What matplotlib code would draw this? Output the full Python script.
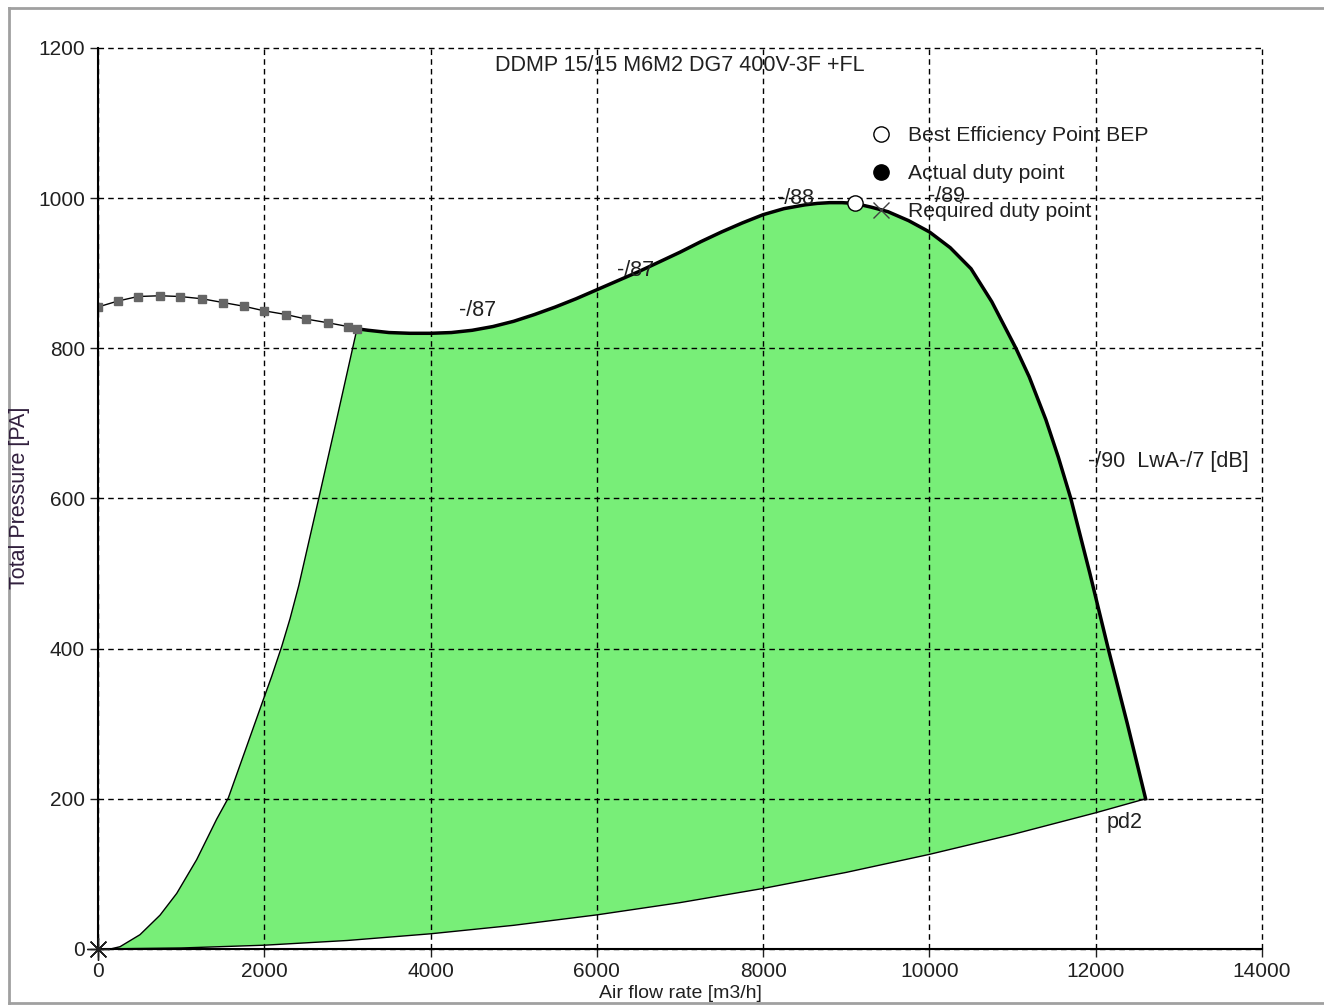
import matplotlib.pyplot as plt
import numpy as np
from matplotlib.lines import Line2D

# stall region curve (grey squares)
stall_x = [0, 240, 481, 746, 986, 1251, 1503, 1756, 1996, 2261, 2502, 2766, 3007, 3115]
stall_y = [855, 863, 869, 870, 869, 866, 861, 856, 850, 845, 839, 834, 829, 826]

# fan curve, max speed
fan_x = [3115, 3250, 3500, 3750, 4000, 4250, 4500, 4750, 5000, 5250, 5500, 5750, 6000,
         6250, 6500, 6750, 7000, 7250, 7500, 7750, 8000, 8250, 8500, 8650, 8800, 8950,
         9100, 9300, 9500, 9750, 10000, 10250, 10500, 10750, 11040, 11200, 11400, 11550,
         11700, 11930, 12150, 12380, 12600]
fan_y = [826, 824, 821, 820, 820, 821, 824, 829, 836, 845, 855, 866, 878,
         890, 902, 915, 928, 942, 955, 967, 978, 986, 991, 993, 994, 994,
         993, 988, 982, 970, 955, 934, 906, 862, 800, 762, 705, 655,
         600, 500, 400, 300, 200]

# left boundary (min speed side)
left_x = [150, 265, 505, 746, 947, 1187, 1428, 1567, 1789, 1988, 2089, 2210, 2310, 2415,
          2655, 2860, 3115]
left_y = [0, 3, 19, 45, 74, 119, 173, 201, 270, 332, 363, 403, 440, 484,
          600, 700, 826]

# system curve pd2
sys_x = [0, 1000, 2000, 3000, 4000, 5000, 6000, 7000, 8000, 9000, 10000, 11000, 12000, 12600]
sys_y = [0, 1.3, 5, 11.3, 20.2, 31.5, 45.4, 61.7, 80.6, 102, 126, 152.5, 181.4, 200]

bep = (9100, 993)

labels_txt = ['-/87', '-/87', '-/88', '-/89', '-/90  LwA-/7 [dB]', 'pd2']
labels_x = [4342, 6242, 8167, 9983, 11908, 12130]
labels_y = [851, 904, 1000, 1002, 649, 169]

title = 'DDMP 15/15 M6M2 DG7 400V-3F +FL'

plt.rcParams['font.family'] = ['Liberation Sans', 'DejaVu Sans']

fig = plt.figure(figsize=(13.24, 10.06), dpi=100)
ax = fig.add_axes([0.0740, 0.0567, 0.8792, 0.8956])

# green operating area
poly_x = list(left_x) + list(fan_x[1:]) + list(sys_x[::-1])
poly_y = list(left_y) + list(fan_y[1:]) + list(sys_y[::-1])
ax.fill(poly_x, poly_y, color='#78ee78', zorder=1, lw=0)

ax.plot(left_x, left_y, color='black', lw=1.0, zorder=3)
ax.plot(sys_x, sys_y, color='black', lw=1.0, zorder=3)
ax.plot(fan_x, fan_y, color='black', lw=2.5, zorder=3, solid_joinstyle='round')
ax.plot(stall_x, stall_y, color='black', lw=1.0, marker='s', ms=6,
        mfc='#666666', mec='#666666', zorder=3)

ax.plot(*bep, 'o', ms=11, mfc='white', mec='black', mew=1, zorder=5)
ax.plot(0, 0, marker=(8, 2, 0), ms=16, color='#202020', mew=1, zorder=5, clip_on=False)

for t, x, y in zip(labels_txt, labels_x, labels_y):
    ax.text(x, y, t, fontsize=15.5, color='#202020', va='center', zorder=6)

ax.text(0.5, 0.981, title, transform=ax.transAxes, ha='center', va='center',
        fontsize=15.5, color='#202020')

handles = [
    Line2D([], [], ls='none', marker='o', ms=11, mfc='white', mec='black', mew=1),
    Line2D([], [], ls='none', marker='o', ms=11, mfc='black', mec='black'),
    Line2D([], [], ls='none', marker='x', ms=11, color='#404040', mew=1),
]
leg = ax.legend(handles, ['Best Efficiency Point BEP', 'Actual duty point', 'Required duty point'],
                loc='upper left', bbox_to_anchor=(0.664, 0.913), frameon=False,
                fontsize=15.2, handlelength=1.0, handletextpad=0.75, labelspacing=0.9,
                borderaxespad=0, borderpad=0)
for txt in leg.get_texts():
    txt.set_color('#202020')

ax.set_xlim(0, 14000)
ax.set_ylim(0, 1200)
ax.set_xticks(np.arange(0, 14001, 2000))
ax.set_yticks(np.arange(0, 1201, 200))
ax.tick_params(direction='out', length=6, width=1, labelsize=15, colors='#202020')
ax.grid(True, color='black', ls=(0, (4, 3)), lw=1)
for gl in ax.get_xgridlines() + ax.get_ygridlines():
    gl.set_clip_on(False)
ax.set_axisbelow(False)
for s in ['top', 'right']:
    ax.spines[s].set_visible(False)
for s in ['left', 'bottom']:
    ax.spines[s].set_linewidth(1.5)
    ax.spines[s].set_zorder(4)

fig.text(0.5136, 0.0129, 'Air flow rate [m3/h]', fontsize=14, color='#202020',
         ha='center', va='center')
fig.text(0.0146, 0.505, 'Total Pressure [PA]', fontsize=15.5, color='#32203e',
         ha='center', va='center', rotation=90)

# outer window frame
fig.add_artist(Line2D([0.007, 1.0], [0.9925, 0.9925], color='#a0a0a0', lw=2))
fig.add_artist(Line2D([0.007, 0.007], [0.9925, 0.003], color='#a0a0a0', lw=2))
fig.add_artist(Line2D([0.007, 1.0], [0.003, 0.003], color='#a0a0a0', lw=2))

fig.savefig('out.png', dpi=100)
